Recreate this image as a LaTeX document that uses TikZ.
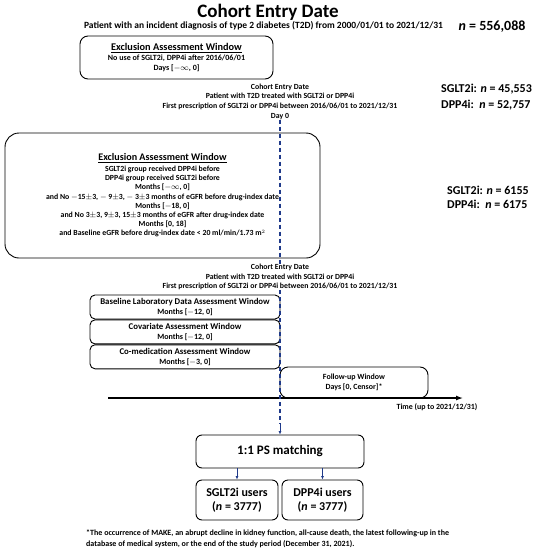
\documentclass[tikz,border=0pt]{standalone}
\usepackage{fontspec}
\setmainfont{Carlito}
\usetikzlibrary{arrows.meta}
\usetikzlibrary{positioning}
\definecolor{entryblue}{HTML}{1F3A8A}
\newcommand{\pmsym}{$\mathord{\pm}$}

\tikzset{
  window/.style={draw=black, line width=0.9pt, rounded corners=8pt, align=center, inner sep=0pt,
    font=\bfseries\fontsize{8}{9.5}\selectfont},
  stackbox/.style={window, rounded corners=5pt, minimum width=190pt, minimum height=24pt},
  entrytext/.style={align=center, inner sep=0pt, font=\bfseries\fontsize{7.8}{9.7}\selectfont},
  count/.style={align=left, anchor=west, inner sep=0pt, font=\bfseries\fontsize{12}{16}\selectfont},
  dashline/.style={entryblue, line width=1.1pt, dash pattern=on 4pt off 3pt},
  flow/.style={entryblue, line width=0.8pt, -{Latex[length=3.5pt,width=3pt]}},
}

\begin{document}
\begin{tikzpicture}[x=1pt, y=-1pt]
  \useasboundingbox (0,0) rectangle (550,551);
  % header
  \node[font=\bfseries\fontsize{19}{22}\selectfont] (title) at (268,12) {Cohort Entry Date};
  \node[font=\bfseries\fontsize{9.5}{11}\selectfont] (patient) at (263.5,26)
    {Patient with an incident diagnosis of type 2 diabetes (T2D) from 2000/01/01 to 2021/12/31};
  \node[font=\bfseries\fontsize{14}{16}\selectfont] (total) at (492,27) {\textit{n} = 556,088};
  % first exclusion window
  \node[window, minimum width=193pt, minimum height=43pt, font=\bfseries\fontsize{8}{10.2}\selectfont] (excl1) at (176.5,57.5)
    {{\fontsize{10.3}{12}\selectfont\underline{Exclusion Assessment Window}}\\
     No use of SGLT2i, DPP4i after 2016/06/01\\
     Days [$-\infty$, 0]};
  % cohort entry
  \node[entrytext] (entry1) at (280,101.5)
    {Cohort Entry Date\\
     Patient with T2D treated with SGLT2i or DPP4i\\
     First prescription of SGLT2i or DPP4i between 2016/06/01 to 2021/12/31\\
     Day 0};
  \node[count] (count1) at (441,97.5) {SGLT2i: \textit{n} = 45,553\\ DPP4i:\ \ \textit{n} = 52,757};
  % second exclusion window
  \node[window, rounded corners=14pt, minimum width=315pt, minimum height=125pt, font=\bfseries\fontsize{7.8}{9.2}\selectfont] (excl2) at (162.5,195.5)
    {{\fontsize{10.1}{12}\selectfont\underline{Exclusion Assessment Window}}\\[1.5pt]
     SGLT2i group received DPP4i before\\
     DPP4i group received SGLT2i before\\
     Months [$-\infty$, 0]\\
     and No $-$15\pmsym3, $-$ 9\pmsym3, $-$ 3\pmsym3 months of eGFR before drug-index date\\
     Months [$-$18, 0]\\
     and No 3\pmsym3, 9\pmsym3, 15\pmsym3 months of eGFR after drug-index date\\
     Months [0, 18]\\
     and Baseline eGFR before drug-index date < 20 ml/min/1.73 m$^2$};
  \node[count, font=\bfseries\fontsize{12}{14}\selectfont] (count2) at (447,197.5) {SGLT2i: \textit{n} = 6155\\ DPP4i:\ \ \textit{n} = 6175};
  % assessment windows
  \node[entrytext] (entry2) at (280,277)
    {Cohort Entry Date\\
     Patient with T2D treated with SGLT2i or DPP4i\\
     First prescription of SGLT2i or DPP4i between 2016/06/01 to 2021/12/31};
  \node[stackbox] (lab) at (185,307)
    {{\fontsize{8.8}{10}\selectfont Baseline Laboratory Data Assessment Window}\\ Months [$-$12, 0]};
  \node[stackbox, below=0pt of lab] (cov)
    {{\fontsize{8.8}{10}\selectfont Covariate Assessment Window}\\ Months [$-$12, 0]};
  \node[stackbox, below=0pt of cov] (comed)
    {{\fontsize{8.8}{10}\selectfont Co-medication Assessment Window}\\ Months [$-$3, 0]};
  \node[window, minimum width=148pt, minimum height=31pt, font=\bfseries\fontsize{7.9}{10}\selectfont] (follow) at (354,382.5)
    {Follow-up Window\\ Days [0, Censor]*};
  % time axis
  \coordinate (tstart) at (108,398);
  \coordinate (tend) at (463,398);
  \draw[line width=1.3pt, -{Latex[length=7pt,width=5pt]}] (tstart) -- (tend);
  \node[font=\bfseries\fontsize{7.9}{9}\selectfont] (timelbl) at (437,407) {Time (up to 2021/12/31)};
  % matching
  \node[window, rounded corners=6pt, minimum width=168pt, minimum height=33pt, font=\bfseries\fontsize{13}{15}\selectfont] (ps) at (280,451.5)
    {1:1 PS matching};
  \node[window, rounded corners=6pt, minimum width=82pt, minimum height=40pt, font=\bfseries\fontsize{12}{13.5}\selectfont] (sglt) at (237,500)
    {SGLT2i users\\ (\textit{n} = 3777)};
  \node[window, rounded corners=6pt, minimum width=81pt, minimum height=40pt, font=\bfseries\fontsize{12}{13.5}\selectfont] (dpp) at (322.5,500)
    {DPP4i users\\ (\textit{n} = 3777)};
  % cohort entry line
  \coordinate (dashend) at (280,424);
  \draw[dashline] (entry1.south) -- (entry2.north);
  \draw[dashline] (entry2.south) -- (dashend);
  \draw[flow] (dashend) -- (ps.north);
  \draw[flow] (sglt.north |- ps.south) -- (sglt.north);
  \draw[flow] (dpp.north |- ps.south) -- (dpp.north);
  % footnote
  \node[anchor=north west, align=left, inner sep=0pt, font=\bfseries\fontsize{8}{11}\selectfont] (note) at (86,530)
    {*The occurrence of MAKE, an abrupt decline in kidney function, all-cause death, the latest following-up in the\\
     database of medical system, or the end of the study period (December 31, 2021).};
\end{tikzpicture}
\end{document}
